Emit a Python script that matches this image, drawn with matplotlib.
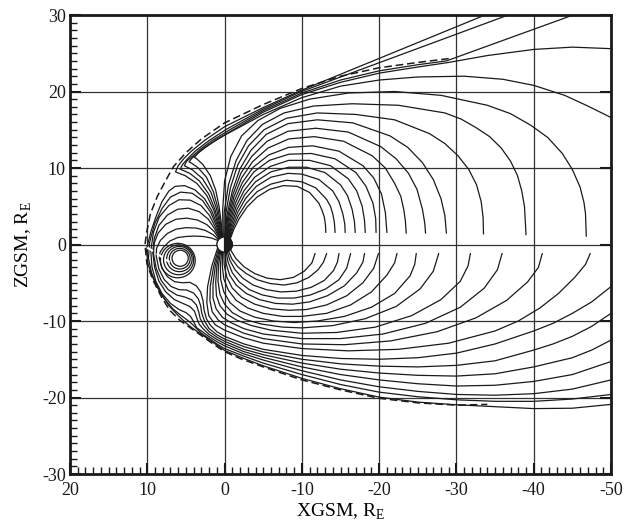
import matplotlib
matplotlib.use('Agg')
import matplotlib.pyplot as plt
from matplotlib.patches import Circle, Wedge, Ellipse
from matplotlib.ticker import MultipleLocator

plt.rcParams['font.family'] = 'Liberation Serif'
plt.rcParams['mathtext.fontset'] = 'custom'
plt.rcParams['mathtext.rm'] = 'Liberation Serif'
plt.rcParams['axes.unicode_minus'] = False

# field lines, (XGSM, ZGSM) in Earth radii

# closed tail lines, northern half (end near the neutral sheet)
north_tail = [
    [(-0.72, 0.7), (-1.2, 2.0), (-1.9, 3.4), (-2.9, 4.9), (-4.2, 6.2), (-5.8, 7.2), (-7.6, 7.7), (-9.4, 7.6), (-11.0, 6.8), (-12.2, 5.4), (-12.6, 4.5), (-12.9, 3.6), (-13.05, 2.6), (-13.1, 1.6)],
    [(-0.66, 0.75), (-1.1, 2.2), (-1.8, 3.8), (-2.8, 5.4), (-4.2, 6.9), (-6.0, 7.9), (-8.0, 8.4), (-10.0, 8.2), (-11.8, 7.4), (-13.2, 5.9), (-13.7, 5.0), (-14.0, 4.0), (-14.2, 2.9), (-14.3, 1.6)],
    [(-0.6, 0.8), (-1.0, 2.4), (-1.7, 4.2), (-2.7, 6.0), (-4.1, 7.6), (-6.0, 8.8), (-8.2, 9.3), (-10.0, 9.2), (-12.2, 8.5), (-14.0, 7.0), (-14.8, 5.6), (-15.3, 4.0), (-15.55, 2.7), (-15.6, 1.6)],
    [(-0.53, 0.85), (-0.9, 2.6), (-1.6, 4.6), (-2.6, 6.5), (-4.0, 8.2), (-6.0, 9.5), (-8.3, 10.1), (-10.6, 10.1), (-13.0, 9.4), (-15.0, 7.8), (-15.9, 6.4), (-16.5, 4.6), (-16.8, 3.0), (-16.9, 1.6)],
    [(-0.47, 0.88), (-0.8, 2.8), (-1.5, 5.0), (-2.5, 7.0), (-3.9, 8.8), (-5.9, 10.2), (-8.3, 11.0), (-11.0, 11.0), (-13.7, 10.3), (-16.0, 8.6), (-17.1, 7.0), (-17.8, 5.0), (-18.1, 3.2), (-18.2, 1.6)],
    [(-0.4, 0.92), (-0.7, 3.0), (-1.4, 5.4), (-2.4, 7.6), (-3.8, 9.5), (-5.8, 11.0), (-8.3, 11.8), (-11.2, 11.9), (-14.3, 11.2), (-17.0, 9.4), (-18.3, 7.6), (-19.2, 5.4), (-19.55, 3.4), (-19.6, 1.6)],
    [(-0.32, 0.95), (-0.6, 3.2), (-1.3, 5.8), (-2.3, 8.1), (-3.7, 10.1), (-5.7, 11.7), (-8.3, 12.7), (-11.4, 12.9), (-14.8, 12.2), (-17.9, 10.3), (-19.3, 8.7), (-20.3, 6.6), (-20.8, 4.2), (-21.0, 1.6)],
    [(-0.25, 0.97), (-0.5, 3.4), (-1.2, 6.2), (-2.2, 8.7), (-3.6, 10.8), (-5.6, 12.6), (-8.3, 13.8), (-11.6, 14.1), (-15.4, 13.5), (-19.1, 11.6), (-20.8, 10.0), (-22.0, 8.0), (-22.8, 6.3), (-23.2, 4.5), (-23.4, 3.0), (-23.5, 1.5)],
    [(-0.17, 0.98), (-0.4, 3.6), (-1.1, 6.6), (-2.1, 9.3), (-3.5, 11.5), (-5.5, 13.5), (-8.2, 14.8), (-11.8, 15.2), (-16.0, 14.7), (-20.2, 12.8), (-22.2, 11.2), (-23.8, 9.3), (-24.9, 7.2), (-25.6, 4.6), (-25.9, 2.8), (-26.0, 1.5)],
    [(-0.1, 1.0), (-0.3, 3.8), (-1.0, 7.0), (-2.0, 9.9), (-3.4, 12.3), (-5.4, 14.4), (-8.2, 15.8), (-12.0, 16.3), (-16.6, 15.9), (-21.4, 14.2), (-23.7, 12.7), (-25.6, 10.7), (-27.0, 8.5), (-28.0, 6.0), (-28.5, 3.8), (-28.7, 1.5)],
    [(0.0, 1.0), (-0.15, 4.0), (-0.75, 7.4), (-1.7, 10.4), (-3.1, 12.9), (-5.1, 15.0), (-8.0, 16.5), (-12.0, 17.2), (-17.0, 17.0), (-22.0, 16.3), (-26.5, 14.5), (-28.5, 13.2), (-30.2, 11.6), (-31.6, 9.8), (-32.6, 7.8), (-33.2, 5.6), (-33.45, 3.5), (-33.5, 1.4)],
    [(0.1, 1.0), (0.05, 4.2), (-0.5, 7.8), (-1.5, 11.0), (-2.9, 13.6), (-4.9, 15.7), (-7.7, 17.2), (-11.5, 18.1), (-16.5, 18.4), (-22.5, 18.2), (-28.5, 17.2), (-30.6, 16.4), (-32.5, 15.3), (-34.3, 14.1), (-35.8, 12.6), (-37.0, 10.9), (-37.9, 9.0), (-38.45, 7.0), (-38.8, 5.0), (-38.9, 3.2), (-39.0, 1.3)],
    [(0.2, 0.98), (0.25, 4.5), (0.0, 8.3), (-0.8, 11.5), (-2.2, 14.2), (-4.3, 16.2), (-7.2, 17.8), (-11.0, 19.0), (-16.0, 19.8), (-22.0, 20.0), (-28.0, 19.5), (-34.0, 18.2), (-37.0, 17.1), (-39.6, 15.6), (-41.8, 14.0), (-43.7, 11.9), (-45.0, 9.8), (-46.0, 7.5), (-46.5, 5.5), (-46.7, 4.0), (-46.8, 1.1)],
]

# lines that bend at the cusp and run along the magnetopause into the lobe
lobe_lines = [
    [(0.42, 0.9), (0.85, 2.6), (1.4, 4.5), (2.3, 6.4), (3.6, 8.0), (5.1, 9.0), (6.0, 9.35), (6.35, 9.5), (6.0, 10.3), (5.3, 11.2), (4.3, 12.2), (2.6, 13.6), (0.0, 15.4), (-5.0, 17.9), (-9.8, 20.1), (-33.7, 30.0)],
    [(0.38, 0.92), (0.75, 2.7), (1.25, 4.6), (2.05, 6.6), (3.25, 8.3), (4.5, 9.3), (5.4, 9.7), (5.75, 9.85), (5.4, 10.5), (4.8, 11.2), (3.8, 12.2), (2.0, 13.6), (-0.3, 15.1), (-5.0, 17.7), (-9.8, 19.95), (-36.7, 30.0)],
    [(0.34, 0.94), (0.65, 2.8), (1.05, 4.7), (1.75, 6.8), (2.85, 8.6), (4.15, 9.75), (5.0, 10.2), (5.2, 10.3), (4.9, 10.9), (4.2, 11.5), (3.2, 12.4), (1.6, 13.6), (-0.5, 14.9), (-5.0, 17.5), (-10.0, 19.8), (-15.0, 21.5), (-20.0, 22.7), (-25.0, 23.5), (-28.7, 24.0), (-45.1, 30.0)],
    [(0.3, 0.95), (0.55, 2.9), (0.88, 4.8), (1.45, 6.9), (2.35, 8.8), (3.45, 10.05), (4.3, 10.65), (4.6, 10.8), (4.2, 11.3), (3.5, 11.9), (2.5, 12.7), (1.1, 13.7), (-0.7, 14.75), (-5.0, 17.3), (-10.0, 19.6), (-15.0, 21.2), (-20.0, 22.4), (-25.0, 23.2), (-29.0, 23.8), (-34.0, 24.7), (-40.0, 25.5), (-45.0, 25.8), (-50.0, 25.6)],
    [(0.25, 0.97), (0.45, 3.0), (0.72, 5.0), (1.15, 7.1), (1.85, 9.0), (2.8, 10.45), (3.6, 11.2), (3.9, 11.4), (3.4, 12.0), (2.5, 12.7), (1.3, 13.5), (-0.2, 14.4), (-1.5, 15.1), (-5.0, 17.0), (-10.0, 19.2), (-15.0, 20.7), (-20.0, 21.5), (-25.0, 21.9), (-31.0, 22.0), (-36.0, 21.6), (-40.0, 20.8), (-44.0, 19.5), (-47.0, 18.1), (-50.0, 16.6)],
]

# dayside lines: over the secondary loop centre, round its sunward side,
# under it and away into the southern tail
dayside_lines = [
    [(0.8, 0.5), (1.7, 0.85), (2.8, 1.05), (3.9, 1.1), (5.0, 1.05), (6.1, 0.9), (7.1, 0.45), (7.9, -0.35), (8.35, -1.0), (8.45, -1.8), (8.1, -3.1), (7.4, -4.2), (6.5, -4.85), (5.5, -5.0), (4.5, -4.95), (3.65, -5.4), (3.1, -6.2), (2.8, -7.3), (2.65, -8.6), (2.35, -9.7), (1.8, -10.6), (1.0, -11.4), (0.0, -12.0), (-2.5, -13.0), (-5.0, -13.7), (-10.0, -14.5), (-15.0, -14.9), (-20.0, -15.0), (-25.0, -14.8), (-30.0, -14.2), (-35.0, -13.0), (-40.0, -11.3), (-42.5, -10.3), (-45.0, -9.0), (-47.5, -7.5), (-50.0, -5.5)],
    [(0.74, 0.6), (1.5, 1.3), (2.5, 1.85), (3.7, 2.15), (5.0, 2.2), (6.3, 2.0), (7.4, 1.45), (8.3, 0.55), (8.8, -0.5), (8.85, -1.5), (8.5, -3.2), (7.8, -4.6), (6.9, -5.5), (5.9, -5.9), (4.9, -5.95), (4.0, -6.35), (3.4, -7.1), (3.1, -8.0), (2.95, -9.0), (2.6, -10.0), (2.0, -11.0), (1.0, -11.8), (0.0, -12.35), (-2.5, -13.35), (-5.0, -14.05), (-10.0, -15.0), (-15.0, -15.6), (-20.0, -15.9), (-25.0, -16.0), (-30.0, -15.8), (-35.0, -15.2), (-40.0, -13.8), (-42.5, -13.0), (-45.0, -12.0), (-47.5, -10.7), (-50.0, -9.0)],
    [(0.68, 0.68), (1.35, 1.7), (2.3, 2.6), (3.5, 3.2), (4.9, 3.45), (6.3, 3.3), (7.6, 2.65), (8.6, 1.5), (9.1, 0.2), (9.2, -1.2), (8.85, -3.1), (8.2, -4.7), (7.3, -5.9), (6.2, -6.6), (5.2, -6.85), (4.3, -7.2), (3.65, -7.9), (3.35, -8.8), (3.15, -9.7), (2.7, -10.55), (2.0, -11.4), (1.0, -12.1), (0.0, -12.65), (-2.5, -13.7), (-5.0, -14.4), (-10.0, -15.5), (-15.0, -16.3), (-20.0, -16.8), (-25.0, -17.1), (-30.0, -17.2), (-35.0, -16.9), (-40.0, -16.0), (-45.0, -14.8), (-47.5, -13.8), (-50.0, -12.5)],
    [(0.62, 0.74), (1.25, 2.0), (2.1, 3.3), (3.3, 4.3), (4.7, 4.75), (6.1, 4.6), (7.4, 3.85), (8.5, 2.5), (9.1, 0.8), (9.3, -1.0), (9.05, -3.0), (8.5, -4.8), (7.6, -6.2), (6.5, -7.2), (5.4, -7.7), (4.5, -8.1), (3.9, -8.7), (3.6, -9.6), (3.3, -10.4), (2.8, -11.0), (2.0, -11.75), (1.0, -12.4), (0.0, -12.95), (-2.5, -14.0), (-5.0, -14.75), (-10.0, -16.0), (-15.0, -17.0), (-20.0, -17.7), (-25.0, -18.2), (-30.0, -18.5), (-35.0, -18.4), (-40.0, -17.9), (-45.0, -17.0), (-50.0, -15.3)],
    [(0.57, 0.79), (1.15, 2.2), (1.95, 3.8), (3.05, 5.1), (4.45, 5.8), (5.9, 5.85), (7.2, 5.1), (8.45, 3.6), (9.2, 1.6), (9.55, -0.8), (9.4, -2.9), (8.9, -4.8), (8.1, -6.4), (7.0, -7.7), (5.9, -8.5), (5.0, -8.9), (4.4, -9.4), (4.0, -10.1), (3.6, -10.9), (3.0, -11.3), (2.0, -12.05), (1.0, -12.7), (0.0, -13.25), (-2.5, -14.3), (-5.0, -15.1), (-10.0, -16.5), (-15.0, -17.7), (-20.0, -18.6), (-25.0, -19.2), (-30.0, -19.6), (-35.0, -19.7), (-40.0, -19.5), (-45.0, -18.9), (-50.0, -17.7)],
    [(0.52, 0.83), (1.05, 2.4), (1.8, 4.2), (2.85, 5.75), (4.2, 6.7), (5.7, 6.85), (7.0, 6.2), (8.1, 4.7), (9.05, 2.7), (9.7, 0.3), (9.85, -1.8), (9.45, -3.7), (8.75, -5.5), (7.8, -7.1), (6.7, -8.4), (5.6, -9.3), (4.8, -9.9), (4.1, -10.5), (3.0, -11.6), (2.0, -12.3), (1.0, -13.0), (0.0, -13.6), (-2.5, -14.6), (-5.0, -15.5), (-10.0, -17.0), (-15.0, -18.3), (-20.0, -19.3), (-25.0, -19.9), (-30.0, -20.3), (-35.0, -20.5), (-40.0, -20.5), (-45.0, -20.2), (-50.0, -19.6)],
    [(0.47, 0.86), (0.95, 2.55), (1.65, 4.4), (2.6, 6.0), (3.85, 7.15), (5.2, 7.7), (6.4, 7.6), (7.2, 7.0), (8.1, 5.6), (8.85, 3.7), (9.5, 1.8), (9.95, 0.0), (10.1, -0.8), (9.9, -2.6), (9.25, -4.4), (8.3, -6.3), (7.2, -8.0), (6.0, -9.3), (5.1, -10.15), (4.4, -10.75), (3.0, -11.75), (2.0, -12.45), (1.0, -13.15), (0.0, -13.85), (-2.5, -14.9), (-5.0, -15.85), (-10.0, -17.5), (-15.0, -18.85), (-20.0, -19.95), (-25.0, -20.6), (-30.0, -20.95), (-35.0, -21.2), (-40.0, -21.45), (-45.0, -21.4), (-50.0, -20.9)],
]

# closed tail lines, southern half
south_tail = [
    [(-0.75, -0.66), (-1.45, -1.8), (-2.5, -2.9), (-3.9, -3.8), (-5.5, -4.4), (-7.2, -4.6), (-8.9, -4.3), (-10.3, -3.5), (-11.3, -2.4), (-11.7, -1.2)],
    [(-0.5, -0.87), (-0.95, -1.9), (-1.7, -2.9), (-2.8, -3.8), (-4.2, -4.6), (-5.9, -5.1), (-7.7, -5.3), (-9.4, -5.0), (-10.9, -4.3), (-12.1, -3.3), (-12.8, -2.3), (-13.2, -1.2)],
    [(-0.35, -0.94), (-0.7, -2.1), (-1.35, -3.3), (-2.35, -4.4), (-3.7, -5.3), (-5.4, -5.9), (-7.3, -6.2), (-9.3, -6.1), (-11.2, -5.6), (-12.9, -4.7), (-14.1, -3.4), (-14.6, -2.3), (-14.8, -1.2)],
    [(-0.2, -0.98), (-0.45, -2.3), (-1.0, -3.7), (-1.9, -4.9), (-3.2, -5.9), (-4.9, -6.6), (-6.9, -7.0), (-9.0, -7.0), (-11.1, -6.6), (-13.1, -5.8), (-14.8, -4.6), (-15.8, -3.1), (-16.3, -1.2)],
    [(-0.05, -1.0), (-0.2, -2.5), (-0.65, -4.0), (-1.5, -5.3), (-2.8, -6.4), (-4.5, -7.2), (-6.6, -7.7), (-8.8, -7.8), (-11.0, -7.5), (-13.3, -6.7), (-15.5, -5.4), (-17.1, -3.7), (-17.9, -2.3), (-18.1, -1.2)],
    [(0.1, -1.0), (0.05, -2.7), (-0.3, -4.3), (-1.0, -5.7), (-2.2, -6.9), (-3.9, -7.8), (-6.0, -8.4), (-8.3, -8.6), (-10.6, -8.5), (-13.2, -7.9), (-15.8, -6.7), (-17.9, -5.0), (-19.3, -3.1), (-19.9, -1.2)],
    [(0.25, -0.97), (0.3, -2.8), (0.1, -4.5), (-0.5, -6.0), (-1.5, -7.3), (-3.0, -8.3), (-5.0, -9.0), (-7.5, -9.4), (-10.0, -9.4), (-13.2, -9.0), (-16.3, -7.9), (-19.0, -6.2), (-21.0, -4.0), (-22.0, -2.4), (-22.3, -1.2)],
    [(0.38, -0.92), (0.55, -2.8), (0.5, -4.6), (0.1, -6.2), (-0.7, -7.6), (-2.0, -8.7), (-3.9, -9.5), (-6.3, -10.0), (-9.0, -10.2), (-12.0, -10.0), (-15.5, -9.4), (-19.0, -8.2), (-22.0, -6.4), (-24.0, -4.1), (-24.6, -2.6), (-24.8, -1.2)],
    [(0.5, -0.87), (0.8, -2.8), (0.85, -4.8), (0.6, -6.5), (0.0, -7.8), (-1.0, -8.9), (-2.6, -9.8), (-4.8, -10.4), (-7.5, -10.8), (-10.0, -10.9), (-14.0, -10.6), (-18.2, -9.7), (-22.2, -8.1), (-25.3, -5.8), (-27.0, -3.5), (-27.7, -1.2)],
    [(0.6, -0.8), (1.0, -2.8), (1.15, -5.0), (1.05, -6.7), (0.6, -8.0), (-0.3, -9.1), (-1.6, -9.9), (-3.5, -10.6), (-6.0, -11.2), (-10.0, -11.6), (-14.5, -11.5), (-19.5, -10.8), (-24.2, -9.3), (-28.0, -7.2), (-30.5, -4.8), (-31.5, -2.8), (-31.8, -1.2)],
    [(0.7, -0.7), (1.2, -2.8), (1.5, -5.2), (1.5, -7.0), (1.1, -8.4), (0.3, -9.5), (-0.8, -10.2), (-2.5, -11.0), (-5.0, -11.7), (-10.0, -12.3), (-15.0, -12.3), (-20.5, -11.7), (-26.0, -10.3), (-30.5, -8.2), (-33.6, -5.7), (-35.3, -3.3), (-35.9, -1.2)],
    [(0.8, -0.6), (1.4, -2.8), (1.85, -5.4), (1.9, -7.3), (1.6, -8.8), (0.8, -9.9), (0.0, -10.5), (-2.5, -11.6), (-5.0, -12.3), (-10.0, -13.0), (-15.5, -13.1), (-21.5, -12.6), (-27.5, -11.4), (-32.5, -9.6), (-36.5, -7.3), (-39.2, -4.9), (-40.6, -3.0), (-41.1, -1.2)],
    [(0.9, -0.45), (1.65, -2.8), (2.2, -5.5), (2.3, -7.6), (2.05, -9.3), (1.2, -10.5), (0.0, -11.2), (-2.5, -12.2), (-5.0, -12.9), (-10.0, -13.6), (-16.0, -13.9), (-22.5, -13.7), (-29.0, -12.9), (-35.0, -11.3), (-38.0, -10.0), (-40.8, -8.3), (-43.2, -6.4), (-45.3, -4.3), (-46.7, -2.6), (-47.3, -1.2)],
]

# closed loops round the secondary centre
loop_x = [5.75, 5.8, 5.85, 5.95, 6.05]
loop_z = [-1.8, -1.85, -1.9, -2.0, -2.1]
loop_w = [2.1, 2.7, 3.3, 3.9, 4.5]
loop_h = [2.1, 2.7, 3.3, 3.9, 4.5]

# magnetopause (dashed)
mp_x = [-29.0, -25.0, -20.0, -15.0, -10.0, -5.0, 0.0, 3.0, 5.0, 6.6, 7.6, 8.7, 9.6, 10.1, 10.3,
        10.05, 9.3, 8.2, 7.1, 5.8, 4.7, 3.0, 1.5, 0.0, -2.0, -5.0, -10.0, -15.0, -20.0, -25.0, -30.0, -34.0]
mp_z = [24.3, 23.8, 23.1, 22.0, 20.4, 18.3, 15.9, 13.8, 12.0, 10.2, 8.4, 6.3, 4.0, 1.5, 0.0,
        -2.5, -4.6, -6.8, -8.6, -9.9, -10.7, -11.9, -13.0, -14.0, -14.9, -16.0, -17.7, -19.0, -20.1, -20.7, -21.0, -20.9]

# white dashed separatrix near the nose
sep_x = [10.0, 8.6, 7.1]
sep_z = [-0.4, -1.3, -2.3]

ink = '#1a1a1a'
fig = plt.figure(figsize=(6.24, 5.21), dpi=100)
ax = fig.add_axes([0.1122, 0.0902, 0.8670, 0.8810])
ax.set_xlim(20, -50)
ax.set_ylim(-30, 30)

ax.set_axisbelow(True)
ax.grid(True, which='major', color='#333333', lw=0.9)

ax.plot(mp_x, mp_z, color=ink, lw=1.1, ls=(0, (5, 2.5)), zorder=2)

for group in (north_tail, lobe_lines, dayside_lines, south_tail):
    for line in group:
        xs, zs = zip(*line)
        ax.plot(xs, zs, color=ink, lw=0.9, solid_joinstyle='round', zorder=3)

for x, z, w, h in zip(loop_x, loop_z, loop_w, loop_h):
    ax.add_patch(Ellipse((x, z), w, h, fill=False, ec=ink, lw=0.9, zorder=3))

ax.plot(sep_x, sep_z, color='white', lw=1.6, ls=(0, (3, 2)), zorder=4)

ax.add_patch(Circle((0, 0), 1.0, fc='white', ec=ink, lw=1.0, zorder=6))
ax.add_patch(Wedge((0, 0), 1.0, 90, 270, fc=ink, ec=ink, lw=1.0, zorder=7))

ax.xaxis.set_major_locator(MultipleLocator(10))
ax.yaxis.set_major_locator(MultipleLocator(10))
ax.xaxis.set_minor_locator(MultipleLocator(1))
ax.yaxis.set_minor_locator(MultipleLocator(1))
ax.tick_params(which='major', direction='in', length=8, width=1.5, labelsize=13, colors=ink,
               right=True, top=False)
ax.tick_params(which='minor', direction='in', length=5, width=1.0, colors=ink,
               right=False, top=False)
ax.tick_params(axis='x', which='major', pad=6)
ax.tick_params(axis='y', which='major', pad=3)

for s in ax.spines.values():
    s.set_linewidth(2.0)
    s.set_color(ink)

ax.set_xlabel(r'XGSM, R$_{\rm E}$', fontsize=14, labelpad=2)
ax.set_ylabel(r'ZGSM, R$_{\rm E}$', fontsize=14, labelpad=6)

fig.savefig('out.png', dpi=100)
